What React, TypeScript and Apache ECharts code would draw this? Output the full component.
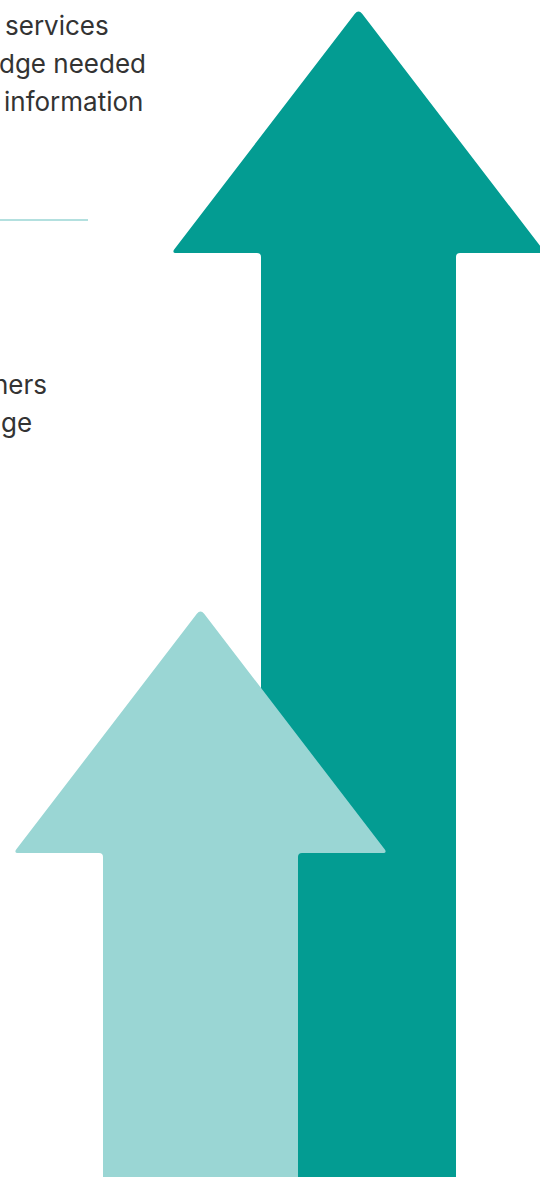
import React, { useEffect, useRef } from "react";
import * as echarts from "echarts";

const categories = ["Light arrow", "Dark arrow"];
const tipValues = [568, 1168];
const arrowColors = ["#9AD6D4", "#039C92"];
const textLines = [
  { text: "services", x: 5, y: 25 },
  { text: "dge needed", x: -1, y: 63 },
  { text: "information", x: 4, y: 101 },
  { text: "hers", x: -7, y: 384 },
  { text: "ge", x: 1, y: 422 },
];

function roundedPath(pts: number[][], radii: number[]) {
  const n = pts.length;
  let d = "";
  for (let i = 0; i < n; i++) {
    const p = pts[i];
    const prev = pts[(i - 1 + n) % n];
    const next = pts[(i + 1) % n];
    const r = radii[i];
    const l1 = Math.hypot(prev[0] - p[0], prev[1] - p[1]);
    const l2 = Math.hypot(next[0] - p[0], next[1] - p[1]);
    const a = [p[0] + ((prev[0] - p[0]) * r) / l1, p[1] + ((prev[1] - p[1]) * r) / l1];
    const b = [p[0] + ((next[0] - p[0]) * r) / l2, p[1] + ((next[1] - p[1]) * r) / l2];
    d += (i === 0 ? "M" : "L") + a[0].toFixed(2) + " " + a[1].toFixed(2);
    if (r > 0) d += "Q" + p[0] + " " + p[1] + " " + b[0].toFixed(2) + " " + b[1].toFixed(2);
  }
  return d + "Z";
}

export default function App() {
  const ref = useRef<HTMLDivElement>(null);
  useEffect(() => {
    if (!ref.current) return;
    const chart = echarts.init(ref.current, null, { renderer: "svg" });
    const headHalf = 187;
    const headH = 244;
    const shaftHalf = 97.5;
    chart.setOption({
      animation: false,
      backgroundColor: "#ffffff",
      grid: { left: 121.5, width: 316, top: 0, bottom: 0 },
      xAxis: { type: "category", data: categories, show: false },
      yAxis: { type: "value", min: 0, max: 1177, show: false },
      graphic: textLines.map((t) => ({
        type: "text",
        x: t.x,
        y: t.y,
        style: {
          text: t.text,
          fontFamily: "Inter",
          fontSize: 26,
          fill: "#333333",
          verticalAlign: "middle",
        },
      })).concat([
        {
          type: "line",
          shape: { x1: 0, y1: 220, x2: 88, y2: 220 },
          style: { stroke: "#9AD6D4", lineWidth: 1.5 },
        } as any,
      ]),
      series: [
        {
          type: "custom",
          clip: false,
          data: tipValues.map((v, i) => [i, v]),
          renderItem: (params: any, api: any) => {
            const idx = params.dataIndex;
            const tip = api.coord([api.value(0), api.value(1)]);
            const base = api.coord([api.value(0), 0]);
            const cx = tip[0];
            const ty = tip[1];
            const hb = ty + headH;
            const by = base[1] + 2;
            const pts = [
              [cx, ty],
              [cx + headHalf, hb],
              [cx + shaftHalf, hb],
              [cx + shaftHalf, by],
              [cx - shaftHalf, by],
              [cx - shaftHalf, hb],
              [cx - headHalf, hb],
            ];
            const radii = [6, 5, 4, 0, 0, 4, 5];
            return {
              type: "path",
              z2: idx === 0 ? 10 : 1,
              shape: { pathData: roundedPath(pts, radii) },
              style: { fill: arrowColors[idx] },
            };
          },
        },
      ],
    });
    return () => chart.dispose();
  }, []);
  return (
    <div
      ref={ref}
      style={{ position: "absolute", left: 0, top: 0, width: 540, height: 1177 }}
    />
  );
}
